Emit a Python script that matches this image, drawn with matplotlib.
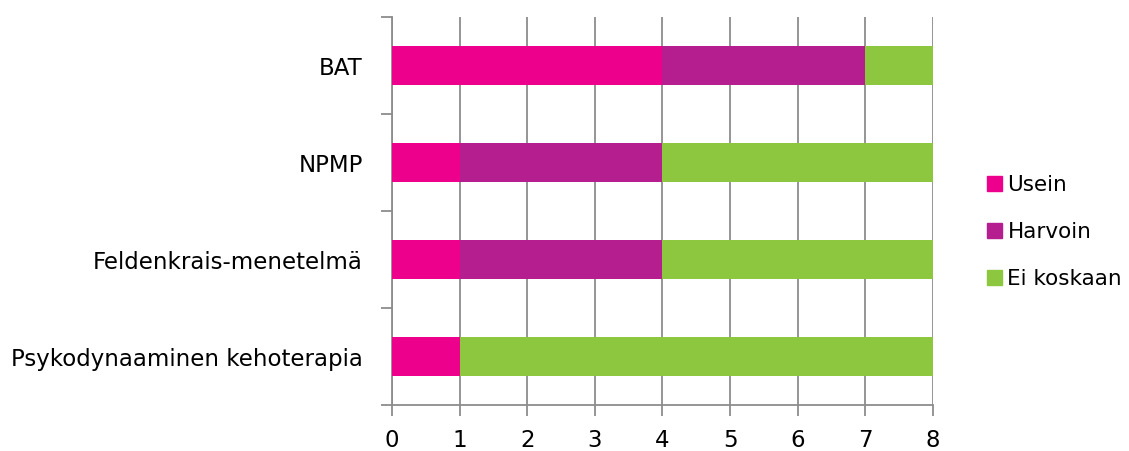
import matplotlib.pyplot as plt
from matplotlib.patches import Patch

# data
kategoriat = ["Psykodynaaminen kehoterapia", "Feldenkrais-menetelmä", "NPMP", "BAT"]
usein = [1, 1, 1, 4]
harvoin = [0, 3, 3, 3]
ei_koskaan = [7, 4, 4, 1]
sarjat = ["Usein", "Harvoin", "Ei koskaan"]
varit = ["#EC008C", "#B41E8E", "#8DC63F"]

fig = plt.figure(figsize=(11.29, 4.51), dpi=100)
ax = fig.add_axes([0.3472, 0.102, 0.4792, 0.8601])

y = [i + 0.5 for i in range(len(kategoriat))]
vasen = [0] * len(kategoriat)
for arvot, vari in zip([usein, harvoin, ei_koskaan], varit):
    ax.barh(y, arvot, left=vasen, height=0.4, color=vari, zorder=3)
    vasen = [a + b for a, b in zip(vasen, arvot)]

ax.set_xlim(0, 8)
ax.set_ylim(0, 4)
ax.set_xticks(range(9))
ax.set_yticks(range(5))
ax.set_yticklabels([])
ax.set_yticks(y, minor=True)
ax.set_yticklabels(kategoriat, minor=True)

harmaa = "#8c8c8c"
ax.grid(axis="x", color=harmaa, linewidth=1.3, zorder=0)
for s in ["top", "right"]:
    ax.spines[s].set_visible(False)
for s in ["left", "bottom"]:
    ax.spines[s].set_color(harmaa)
    ax.spines[s].set_linewidth(1.3)
ax.tick_params(axis="both", which="major", color=harmaa, width=1.3, length=8,
               labelsize=16.5, pad=9)
ax.tick_params(axis="y", which="minor", length=0, labelsize=16.5, pad=21)

kasit = [Patch(color=v, label=n) for n, v in zip(sarjat, varit)]
fig.legend(handles=kasit, loc="center left", bbox_to_anchor=(0.857, 0.486),
           frameon=False, fontsize=15.5, handlelength=0.7, handleheight=0.7,
           handletextpad=0.25, labelspacing=1.25)

fig.savefig("out.png", dpi=100)
